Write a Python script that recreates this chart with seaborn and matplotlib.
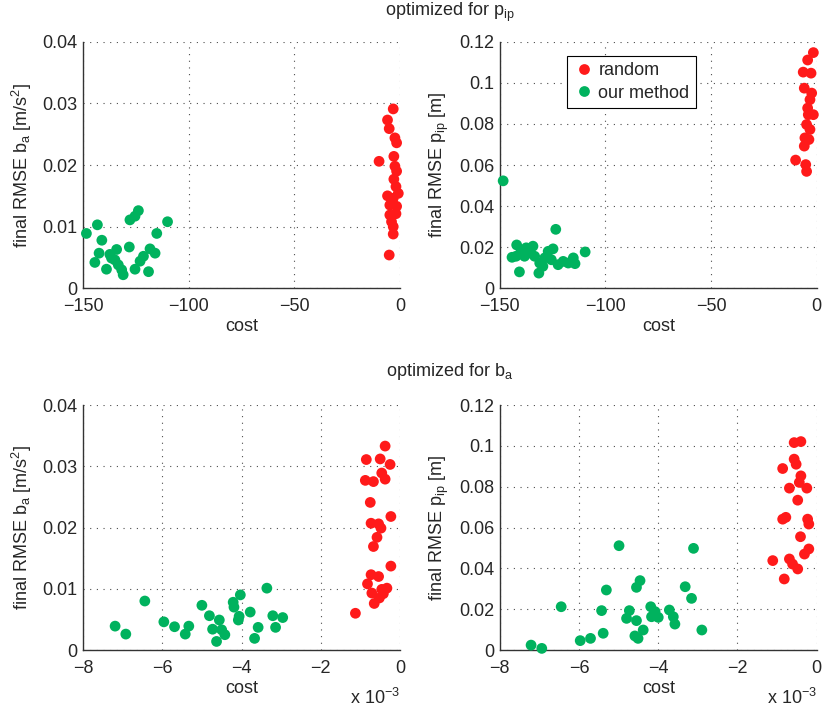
import matplotlib
matplotlib.use("Agg")
import matplotlib.pyplot as plt
from matplotlib.ticker import FuncFormatter, MultipleLocator
import pandas as pd
import seaborn as sns

# ---- data ----
# optimized for p_ip, left: final RMSE b_a
p1_random_cost = [-3.2, -5.9, -5.1, -2.4, -1.6, -9.9, -2.9, -2.4, -1.6, -2.9, -1.9,
                  -5.9, -0.8, -3.2, -4.8, -1.6, -4.8, -1.9, -4.0, -3.2, -3.2, -5.1]
p1_random_err = [0.0291, 0.0273, 0.0259, 0.0244, 0.0236, 0.0206, 0.0214, 0.0198, 0.0190,
                 0.0177, 0.0165, 0.0150, 0.0154, 0.0146, 0.0135, 0.0133, 0.0119, 0.0121,
                 0.0108, 0.0100, 0.0088, 0.0054]
p1_ours_cost = [-148.4, -143.2, -141.1, -142.4, -144.4, -138.9, -136.5, -134.1, -134.9,
                -131.7, -131.0, -128.1, -127.8, -125.4, -123.8, -125.4, -123.0, -121.4,
                -119.0, -118.3, -115.9, -115.1, -110.0, -137.3, -133.3]
p1_ours_err = [0.0089, 0.0103, 0.0078, 0.0057, 0.0042, 0.0031, 0.0049, 0.0063, 0.0046,
               0.0030, 0.0022, 0.0067, 0.0111, 0.0117, 0.0126, 0.0031, 0.0044, 0.0052,
               0.0027, 0.0064, 0.0057, 0.0089, 0.0108, 0.0055, 0.0038]

# optimized for p_ip, right: final RMSE p_ip
p2_random_cost = [-1.6, -4.3, -6.4, -2.7, -5.9, -2.4, -3.2, -4.3, -1.6, -4.0, -4.8,
                  -3.2, -5.6, -3.7, -5.9, -10.0, -5.2, -4.8]
p2_random_err = [0.1147, 0.1111, 0.1052, 0.1047, 0.0974, 0.0950, 0.0918, 0.0877, 0.0845,
                 0.0845, 0.0797, 0.0773, 0.0732, 0.0724, 0.0692, 0.0624, 0.0602, 0.0569]
p2_ours_cost = [-148.4, -142.0, -144.2, -140.7, -139.9, -137.5, -138.3, -135.9, -134.3,
                -133.5, -131.1, -131.5, -128.7, -127.1, -124.8, -123.5, -125.6, -122.4,
                -120.0, -117.6, -115.2, -114.4, -109.6, -129.6, -142.3]
p2_ours_err = [0.0523, 0.0211, 0.0151, 0.0080, 0.0180, 0.0197, 0.0156, 0.0172, 0.0205,
               0.0156, 0.0123, 0.0074, 0.0148, 0.0180, 0.0192, 0.0287, 0.0139, 0.0115,
               0.0131, 0.0123, 0.0148, 0.0120, 0.0177, 0.0107, 0.0156]

# optimized for b_a, left: final RMSE b_a (cost in units of 1e-3)
p3_random_cost = [-0.375, -0.85, -0.5, -0.25, -0.46, -0.875, -0.67, -0.375, -0.75, -0.23,
                  -0.73, -0.54, -0.48, -0.58, -0.67, -0.23, -0.73, -0.54, -0.82, -0.33,
                  -0.46, -0.71, -0.42, -0.52, -0.65, -1.125]
p3_random_err = [0.0333, 0.0311, 0.0312, 0.0303, 0.0289, 0.0277, 0.0275, 0.0279, 0.0241,
                 0.0218, 0.0207, 0.0206, 0.0199, 0.0184, 0.0169, 0.0137, 0.0123, 0.0120,
                 0.0108, 0.0101, 0.0099, 0.0093, 0.0092, 0.0085, 0.0076, 0.0060]
p3_ours_cost = [-7.19, -6.92, -6.44, -5.96, -5.69, -5.42, -5.33, -5.0, -4.81, -4.73, -4.56,
                -4.63, -4.5, -4.42, -4.21, -4.19, -4.03, -4.08, -4.06, -3.78, -3.58, -3.67,
                -3.36, -3.21, -3.14, -2.96]
p3_ours_err = [0.0039, 0.0026, 0.0080, 0.0046, 0.0038, 0.0026, 0.0039, 0.0073, 0.0056,
               0.0034, 0.0049, 0.0014, 0.0033, 0.0025, 0.0078, 0.0070, 0.0090, 0.0049,
               0.0055, 0.0062, 0.0037, 0.0019, 0.0101, 0.0056, 0.0037, 0.0053]

# optimized for b_a, right: final RMSE p_ip (cost in units of 1e-3)
p4_random_cost = [-0.57, -0.40, -0.57, -0.52, -0.86, -0.40, -0.69, -0.44, -0.25, -0.48,
                  -0.78, -0.86, -0.23, -0.20, -0.41, -0.20, -0.31, -0.69, -1.11, -0.61,
                  -0.48, -0.82]
p4_random_err = [0.1016, 0.1021, 0.0935, 0.0910, 0.0889, 0.0853, 0.0793, 0.0821, 0.0793,
                 0.0734, 0.0650, 0.0641, 0.0641, 0.0617, 0.0555, 0.0495, 0.0470, 0.0446,
                 0.0438, 0.0421, 0.0397, 0.0348]
p4_ours_cost = [-7.21, -6.94, -6.45, -5.97, -5.71, -5.39, -5.43, -5.31, -4.99, -4.73, -4.80,
                -4.55, -4.59, -4.51, -4.38, -4.55, -4.46, -4.19, -4.17, -4.08, -4.0, -3.72,
                -3.62, -3.58, -3.32, -3.16, -3.11, -2.90]
p4_ours_err = [0.0024, 0.0008, 0.0212, 0.0046, 0.0057, 0.0082, 0.0193, 0.0294, 0.0511,
               0.0193, 0.0155, 0.0144, 0.0069, 0.0057, 0.0098, 0.0307, 0.0340, 0.0212,
               0.0163, 0.0188, 0.0160, 0.0196, 0.0163, 0.0127, 0.0310, 0.0253, 0.0498,
               0.0098]

colors = {"random": "#FF1A1A", "our method": "#00B25E"}
ylabel_ba = "final RMSE b$_a$ [m/s$^2$]"
ylabel_pip = "final RMSE p$_{ip}$ [m]"

sns.set_theme(style="white")
plt.rcParams["font.family"] = ["Liberation Sans", "DejaVu Sans"]
plt.rcParams["mathtext.fontset"] = "custom"
plt.rcParams["mathtext.rm"] = "Liberation Sans"
plt.rcParams["mathtext.default"] = "regular"
plt.rcParams["font.size"] = 13


def fmt(v, pos):
    return f"{v:g}".replace("-", "\u2212")


def draw(ax, cost_r, err_r, cost_o, err_o, xlim, ylim, ystep, ylabel, legend=False):
    df = pd.DataFrame({
        "cost": list(cost_r) + list(cost_o),
        "err": list(err_r) + list(err_o),
        "method": ["random"] * len(cost_r) + ["our method"] * len(cost_o),
    })
    sns.scatterplot(data=df, x="cost", y="err", hue="method", palette=colors,
                    s=60, linewidth=0, ax=ax, legend=legend, clip_on=False, zorder=3)
    ax.set_xlim(*xlim)
    ax.set_ylim(*ylim)
    ax.xaxis.set_major_locator(MultipleLocator((xlim[1] - xlim[0]) / (3 if xlim[0] < -10 else 4)))
    ax.yaxis.set_major_locator(MultipleLocator(ystep))
    ax.xaxis.set_major_formatter(FuncFormatter(fmt))
    ax.yaxis.set_major_formatter(FuncFormatter(fmt))
    ax.grid(True, color="0.3", linestyle=(0, (1, 5)), linewidth=0.8)
    for side in ["top", "right"]:
        ax.spines[side].set_visible(False)
    for side in ["left", "bottom"]:
        ax.spines[side].set_color("0.2")
        ax.spines[side].set_linewidth(1.0)
    ax.tick_params(direction="in", length=4, width=0.8, color="0.2", labelsize=13)
    ax.tick_params(axis="x", pad=7)
    ax.tick_params(axis="y", pad=4)
    ax.set_xlabel("cost", fontsize=13, labelpad=2)
    ax.set_ylabel(ylabel, fontsize=13, labelpad=6)
    if legend:
        old = ax.get_legend()
        handles = old.legend_handles
        labels = [t.get_text() for t in old.get_texts()]
        leg = ax.legend(handles, labels, loc="upper left", bbox_to_anchor=(0.211, 0.942),
                        borderaxespad=0, frameon=True, fancybox=False, framealpha=1,
                        edgecolor="black", fontsize=13, handletextpad=0.2,
                        borderpad=0.35, labelspacing=0.3, handlelength=1.2)
        leg.get_frame().set_linewidth(0.8)


fig = plt.figure(figsize=(8.22, 7.07), dpi=100)
w, h = 0.3856, 0.3488
ax1 = fig.add_axes([0.101, 0.5922, w, h])
ax2 = fig.add_axes([0.608, 0.5922, w, h])
ax3 = fig.add_axes([0.101, 0.0806, w, 0.3465])
ax4 = fig.add_axes([0.608, 0.0806, w, 0.3465])

draw(ax1, p1_random_cost, p1_random_err, p1_ours_cost, p1_ours_err,
     (-150, 0), (0, 0.04), 0.01, ylabel_ba)
draw(ax2, p2_random_cost, p2_random_err, p2_ours_cost, p2_ours_err,
     (-150, 0), (0, 0.12), 0.02, ylabel_pip, legend="auto")
draw(ax3, p3_random_cost, p3_random_err, p3_ours_cost, p3_ours_err,
     (-8, 0), (0, 0.04), 0.01, ylabel_ba)
draw(ax4, p4_random_cost, p4_random_err, p4_ours_cost, p4_ours_err,
     (-8, 0), (0, 0.12), 0.02, ylabel_pip)

for ax in (ax3, ax4):
    ax.text(1.0, -0.195, "x 10$^{\u22123}$", transform=ax.transAxes,
            ha="right", va="center", fontsize=13)

fig.text(0.547, 0.983, "optimized for p$_{ip}$", ha="center", va="center", fontsize=13)
fig.text(0.547, 0.474, "optimized for b$_a$", ha="center", va="center", fontsize=13)

fig.savefig("out.png", dpi=100)
